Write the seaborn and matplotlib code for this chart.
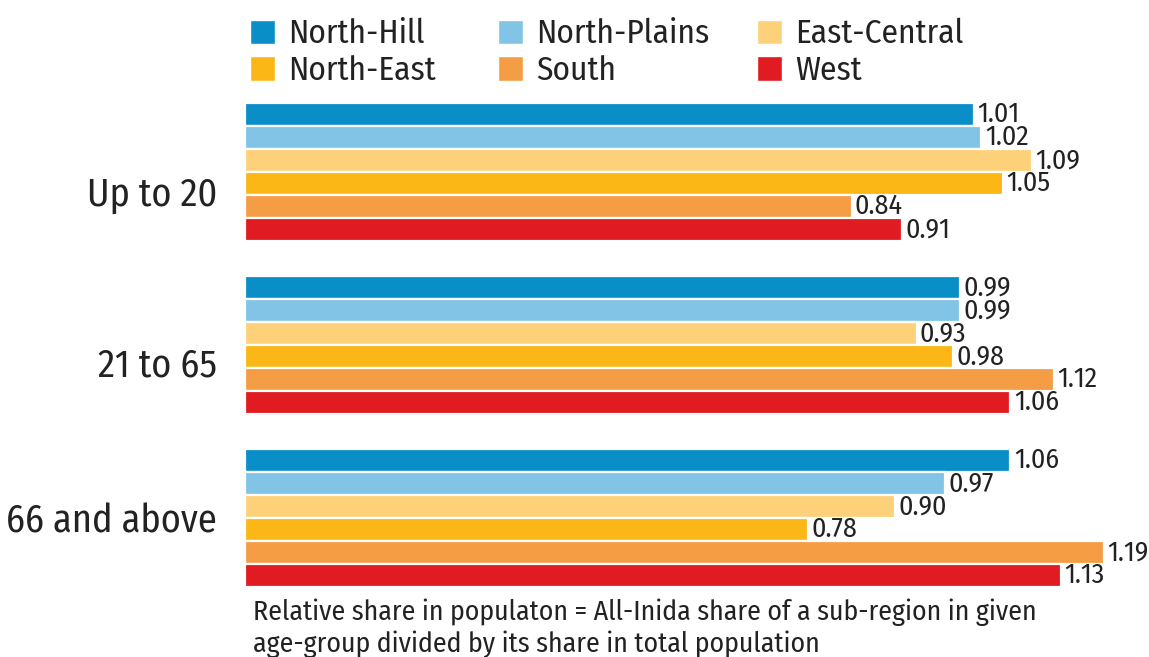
import matplotlib
matplotlib.use("Agg")
import matplotlib.pyplot as plt
import matplotlib.transforms as mtransforms
import seaborn as sns
import pandas as pd
from matplotlib.patches import Patch

age_groups = ["Up to 20", "21 to 65", "66 and above"]
regions = ["North-Hill", "North-Plains", "East-Central", "North-East", "South", "West"]
north_hill = [1.01, 0.99, 1.06]
north_plains = [1.02, 0.99, 0.97]
east_central = [1.09, 0.93, 0.90]
north_east = [1.05, 0.98, 0.78]
south = [0.84, 1.12, 1.19]
west = [0.91, 1.06, 1.13]
colors = ["#0a8ec8", "#82c4e6", "#fdd17a", "#fbb716", "#f59d45", "#e11b22"]
note = ("Relative share in populaton = All-Inida share of a sub-region in given\n"
        "age-group divided by its share in total population")

series = [north_hill, north_plains, east_central, north_east, south, west]
rows = []
for reg, vals in zip(regions, series):
    for g, v in zip(age_groups, vals):
        rows.append({"group": g, "region": reg, "value": v})
df = pd.DataFrame(rows)

sns.set_theme(style="white")
FONT = ["Fira Sans Condensed", "DejaVu Sans"]
plt.rcParams["font.family"] = FONT

fig = plt.figure(figsize=(11.49, 6.57), dpi=100)
ax = fig.add_axes([245 / 1149, 1 - 604.5 / 657, 904 / 1149, 519 / 657])
sns.barplot(data=df, y="group", x="value", hue="region", order=age_groups,
            hue_order=regions, palette=colors, orient="h", width=0.8,
            edgecolor="white", linewidth=1.6, saturation=1, ax=ax, legend=False)
ax.set_xlim(0, 1.252)
ax.set_ylim(2.5, -0.5)
for cont in ax.containers:
    ax.bar_label(cont, fmt="%.2f", padding=2.5, fontsize=20, color="#222222")
ax.set_xlabel("")
ax.set_ylabel("")
ax.set_xticks([])
ax.tick_params(axis="y", length=0, pad=20, labelsize=27.5, labelcolor="#222222")
sns.despine(ax=ax, left=True, bottom=True)
# per-label vertical nudges (px) as in the reference
for lab, dy in zip(ax.get_yticklabels(), [19, 17, 0]):
    lab.set_transform(lab.get_transform() +
                      mtransforms.ScaledTranslation(0, -dy / 100, fig.dpi_scale_trans))

# legend: three columns, two rows (row-major order as in reference)
col_x = [250, 498, 757]
for c in range(3):
    hs = [Patch(facecolor=colors[c], label=regions[c]),
          Patch(facecolor=colors[c + 3], label=regions[c + 3])]
    fig.legend(handles=hs, ncol=1, loc="upper left",
               bbox_to_anchor=(col_x[c] / 1149, 1 - 18 / 657), frameon=False,
               fontsize=24, handlelength=0.75, handleheight=0.75,
               handletextpad=0.4, labelspacing=0.15, borderaxespad=0,
               borderpad=0, labelcolor="#222222")

fig.text(253 / 1149, 1 - 598 / 657, note, ha="left", va="top", fontsize=20,
         color="#222222", linespacing=1.25)

fig.savefig("out.png", dpi=100)
